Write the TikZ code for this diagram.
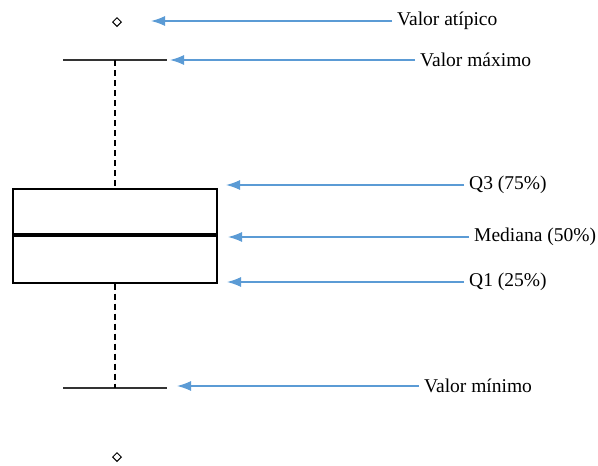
\documentclass[tikz,border=0pt]{standalone}
\usepackage{fontspec}
\setmainfont{Liberation Serif}
\usetikzlibrary{arrows.meta, positioning, shapes.geometric}

\definecolor{arrblue}{RGB}{91,155,213}

\begin{document}
\begin{tikzpicture}[x=1pt, y=-1pt,
    arr/.style={draw=arrblue, line width=1.3pt, -{Latex[length=14pt, width=10pt]}},
    lbl/.style={anchor=west, inner sep=5pt, font=\fontsize{19.5}{22}\selectfont},
    outl/.style={diamond, draw, line width=1pt, minimum size=9pt, inner sep=0pt},
    whiskcap/.style={draw=black!80, line width=1.8pt}]

   \useasboundingbox (0,0) rectangle (598,466);

   % Nodes
      \node[outl]                                    (otop)  at (117,22)  {};
      \node[outl]                                    (obot)  at (117,457) {};
      \node[draw, line width=1.4pt, minimum width=204pt, minimum height=94pt, inner sep=0pt]
                                                     (box)   at (115,236) {};
      \coordinate (maxl) at (63,60);   \coordinate (maxr) at (167,60);
      \coordinate (minl) at (63,388);  \coordinate (minr) at (167,388);
      \coordinate (maxc) at (115,60);  \coordinate (minc) at (115,388);

      \node[lbl] (latip) at (392,21)  {Valor atípico};
      \node[lbl] (lmax)  at (415,60)  {Valor máximo};
      \node[lbl] (lq3)   at (464,185) {Q3 (75\%)};
      \node[lbl] (lmed)  at (469,237) {Mediana (50\%)};
      \node[lbl] (lq1)   at (464,282) {Q1 (25\%)};
      \node[lbl] (lmin)  at (419,386) {Valor mínimo};

      \coordinate (tatip) at (151,21);
      \coordinate (tmax)  at (170,60);
      \coordinate (tq3)   at (226,185);
      \coordinate (tmed)  at (228,237);
      \coordinate (tq1)   at (227,282);
      \coordinate (tmin)  at (177,386);

   % Box and whiskers
      \draw[line width=3.8pt] (box.west |- 0,235) -- (box.east |- 0,235);
      \draw[whiskcap] (maxl) -- (maxr);
      \draw[whiskcap] (minl) -- (minr);
      \draw[line width=1.4pt, dash pattern=on 6pt off 4pt] (maxc) -- (box.north);
      \draw[line width=1.4pt, dash pattern=on 6pt off 4pt] (box.south) -- (minc);

   % Paths
      \path (latip.west) edge [arr] (tatip);
      \path (lmax.west)  edge [arr] (tmax);
      \path (lq3.west)   edge [arr] (tq3);
      \path (lmed.west)  edge [arr] (tmed);
      \path (lq1.west)   edge [arr] (tq1);
      \path (lmin.west)  edge [arr] (tmin);
   \end{tikzpicture}
\end{document}
